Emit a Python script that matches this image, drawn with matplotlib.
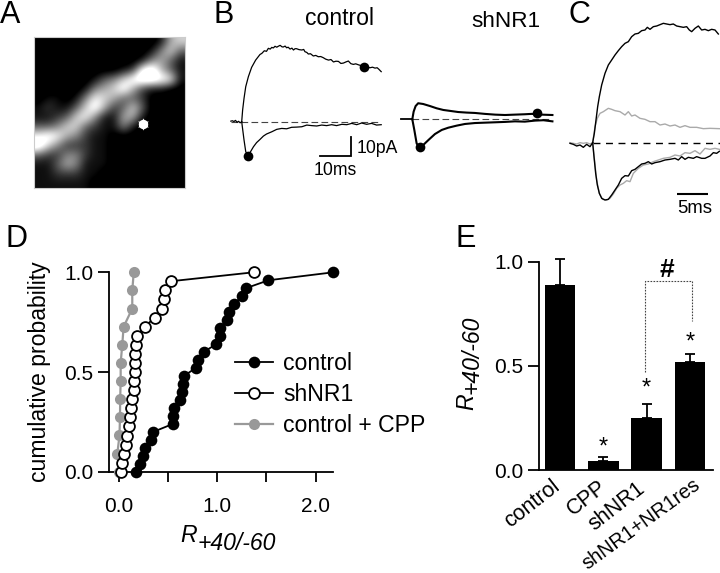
import numpy as np
import matplotlib
matplotlib.use("Agg")
import matplotlib.pyplot as plt

plt.rcParams['font.family'] = ['Liberation Sans', 'DejaVu Sans']
W, H = 720, 573
fig = plt.figure(figsize=(W / 100, H / 100), dpi=100)

# ---------- Panel A micrograph: coarse intensity (0-9)
micro_rows = [
    "0000000000000156",
    "0000000000001463",
    "0000000000014531",
    "0000000001289531",
    "0000001346899871",
    "0000014568521100",
    "0110147653320000",
    "1211368523630000",
    "1123674115510000",
    "3346632114100000",
    "7875421100000000",
    "9642221100000000",
    "3224421100000000",
    "1135411100000000",
    "1122211000000000",
    "1111110000000000",
]
spine_xy = (142.7, 124.3)

# ---------- Panel B, control (ms, pA)
b_ctrl_pre_t = [-3.5, -3.0, -2.5, -2.0, -1.5, -1.0, -0.5, 0.0]
b_ctrl_pre_i = [0.3, 0.5, 0.1, 0.7, -0.3, 0.2, -0.6, 0.0]
b_ctrl_up_t = [0, .3, .75, 1.3, 2.15, 3.2, 4.5, 5.9, 6.5, 7.3, 8.0, 8.6, 9.2, 9.7, 10.2, 10.75, 11.3, 11.8, 12.4, 13.0,
               13.4, 14.0, 14.5, 15.0, 15.6, 16.2, 16.7, 17.2, 17.7, 18.5, 19.4, 20.0, 20.4, 21.0, 21.5, 22.2, 23.1,
               23.9, 24.7, 25.5, 26.3, 27.1, 28, 28.8, 29.6, 30.4, 31.2, 32, 32.8, 33.6, 34.4, 35.2, 36, 36.8, 37.6,
               39.6, 41.4, 42.2, 43, 43.7, 44.3, 45]
b_ctrl_up_i = [0, 6.25, 12.5, 18.75, 24.1, 29.1, 33, 36, 36.6, 38, 37.7, 39.3, 38.9, 39.8, 39.5, 40.4, 39.9, 40.4, 40.9, 40.1,
               40, 40.5, 39.6, 39.9, 38.9, 39.4, 38.4, 39.1, 39.1, 38.6, 38.4, 38.7, 37.5, 37.1, 36.25, 36.4, 35.2,
               35.5, 34.8, 34.9, 34.3, 33.5, 33, 33.3, 32, 32.4, 32.3, 31.2, 31.4, 32, 32.5, 31.1, 30.7, 31, 30.5,
               29.5, 28.9, 29.2, 28.7, 28.9, 28, 26.8]
b_ctrl_lo_t = [0, .75, 1.3, 1.9, 2.7, 3.8, 4.8, 5.9, 7, 8, 9.7, 11.3, 12.9, 14.5, 16.1, 17.7, 19.4, 21, 22.6, 24.2, 25.8,
               27.4, 29, 30.6, 32.3, 33.9, 35.5, 37.1, 38.7, 40.3, 41.9, 43.5, 45]
b_ctrl_lo_i = [0, -9.8, -16, -17.8, -16.5, -13.4, -11.2, -9.5, -7.7, -6.6, -5.4, -4.1, -3.6, -3.8, -3.0, -2.9, -2.7,
               -1.8, -2.1, -2.3, -1.8, -2.1, -1.6, -2.1, -1.4, -1.6, -0.9, -1.6, -0.7, -1.4, -0.9, -1.8, -1.6]
b_ctrl_dots_t = [2.0, 39.4]
b_ctrl_dots_i = [-18.4, 29.5]

# ---------- Panel B, shNR1 (ms, pA)
b_sh_pre_t = [-3.5, -2, -1, 0]
b_sh_pre_i = [0, 0, 0, 0]
b_sh_up_t = [0, .43, 1.07, 1.9, 3.5, 5.7, 7.85, 10, 12.2, 14.8, 17.5, 20.2, 23.4, 26.7, 29.9, 33.1, 36.3, 38.5, 41.7, 45.2]
b_sh_up_i = [0, 4.1, 7.1, 8.6, 8.2, 7.1, 5.9, 5, 4.5, 3.9, 3.6, 3.4, 2.9, 2.5, 2.3, 2.5, 2.7, 2.9, 2.5, 2.3]
b_sh_lo_t = [0, .65, 1.4, 2.15, 3.5, 5.2, 7.3, 9.5, 11.6, 14.3, 17, 20.2, 23.4, 26.7, 29.9, 33.1, 36.3, 39.6, 42.3, 45.2]
b_sh_lo_i = [0, -5.7, -12.9, -15, -13.8, -11.1, -7.9, -5.7, -4.5, -3.4, -2.5, -2, -1.8, -1.6, -1.4, -1.1, -1.25, -.7, -.5, -1.1]
b_sh_dots_t = [2.6, 40.2]
b_sh_dots_i = [-15, 3.6]

# ---------- Panel C (samples at 19 per ms, arbitrary amplitude)
c_blk_pre_s = [-68, -58, -48, -38, -28, -18, -8, 0]
c_blk_pre_a = [-2, -5, -10, -7, -14, -5, -12, 0]
c_gry_pre_s = [-68, -58, -48, -38, -28, -18, -8, 0]
c_gry_pre_a = [0, -2, -4, 0, -2, 0, -4, 0]
c_blk_up_s = [0, 5, 10, 15, 20, 27, 37, 47, 57, 67, 77, 87, 97, 107, 117, 127, 137, 147, 157, 164, 172, 182, 192, 202,
              212, 222, 232, 242, 252, 262, 272, 282, 290, 297, 307, 317, 327, 337, 347, 357, 367, 377]
c_blk_up_a = [0, 28, 68, 108, 138, 173, 208, 233, 248, 263, 276, 288, 298, 303, 318, 326, 328, 336, 338, 346, 340, 348,
              350, 354, 358, 356, 354, 356, 350, 348, 346, 348, 338, 333, 343, 350, 338, 340, 336, 340, 338, 326]
c_gry_up_s = [0, 7, 14, 22, 32, 47, 57, 67, 82, 97, 107, 117, 127, 142, 157, 172, 187, 202, 217, 232, 247, 262, 277, 292,
              312, 332, 352, 380]
c_gry_up_a = [0, 48, 73, 88, 93, 103, 100, 96, 93, 83, 93, 80, 83, 73, 70, 63, 63, 53, 56, 50, 53, 46, 51, 46, 46, 42, 43, 42]
c_blk_lo_s = [0, 4, 9, 14, 20, 27, 37, 47, 57, 67, 77, 87, 97, 107, 117, 127, 137, 147, 157, 167, 177, 187, 202, 217, 232,
              247, 257, 267, 277, 287, 302, 312, 327, 337, 352, 362, 372, 380]
c_blk_lo_a = [0, -42, -92, -127, -152, -167, -172, -170, -157, -142, -127, -107, -99, -100, -84, -80, -72, -64, -62, -57,
              -64, -60, -57, -52, -50, -47, -52, -42, -50, -44, -47, -42, -47, -47, -40, -30, -32, -26]
c_gry_lo_s = [0, 5, 12, 20, 30, 42, 52, 62, 72, 82, 92, 102, 112, 122, 137, 152, 167, 182, 197, 212, 232, 247, 262, 277,
              292, 307, 322, 337, 352, 367, 380]
c_gry_lo_a = [0, -47, -112, -152, -170, -172, -167, -154, -137, -127, -122, -114, -117, -92, -77, -67, -64, -57, -52, -47,
              -44, -37, -40, -30, -32, -24, -34, -17, -20, -17, -20]

# ---------- Panel D
prob_control = [0, .04, .08, .12, .16, .20, .24, .28, .32, .36, .40, .44, .48, .52, .56, .60, .64, .68, .72, .76, .80,
                .84, .88, .92, .96, 1.0]
r_control = [.17, .21, .24, .26, .33, .35, .55, .55, .56, .62, .64, .65, .66, .78, .80, .86, .99, 1.03, 1.03, 1.10, 1.12,
             1.17, 1.25, 1.29, 1.52, 2.18]
prob_shnr1 = [0, .045, .09, .136, .18, .227, .273, .318, .364, .409, .455, .5, .545, .591, .636, .682, .727, .773, .818,
              .864, .909, .955, 1.0]
r_shnr1 = [.02, .03, .05, .07, .08, .10, .115, .12, .13, .15, .155, .16, .165, .165, .17, .185, .26, .365, .435, .455,
           .47, .525, 1.37]
prob_cpp = [0, .091, .182, .273, .364, .455, .545, .636, .727, .818, .909, 1.0]
r_cpp = [.0, -.017, .005, .01, .012, .017, .017, .033, .047, .135, .135, .15]
d_xticks = [0, .5, 1, 1.5, 2]
d_xlabels = ['0.0', '', '1.0', '', '2.0']
d_yticks = [0, .5, 1]
d_ylabels = ['0.0', '0.5', '1.0']

# ---------- Panel E
groups = ['control', 'CPP', 'shNR1', 'shNR1+NR1res']
ratio_mean = [.888, .043, .248, .517]
ratio_err = [.123, .019, .069, .040]
star_groups = [1, 2, 3]
star_heights = [.08, .36, .585]


def px_axes(x0, y0, x1, y1):
    ax = fig.add_axes([x0 / W, 1 - y1 / H, (x1 - x0) / W, (y1 - y0) / H])
    ax.patch.set_alpha(0)
    return ax


def trace_axes(x0, y0, x1, y1, x_zero, y_zero, px_per_x, px_per_y):
    ax = px_axes(x0, y0, x1, y1)
    ax.set_xlim((x0 - x_zero) / px_per_x, (x1 - x_zero) / px_per_x)
    ax.set_ylim((y_zero - y1) / px_per_y, (y_zero - y0) / px_per_y)
    ax.axis('off')
    return ax


# Panel A
ax = px_axes(34, 37, 185, 188)
micro = np.array([[int(c) for c in r] for r in micro_rows], float) / 9
ax.imshow(micro, cmap='gray', vmin=0.07, vmax=0.78, interpolation='bicubic', extent=(34, 185, 188, 37), aspect='auto')
ax.plot(*spine_xy, marker='o', ms=6.8, color='white', mew=0)
ax.plot(*spine_xy, marker=(6, 1, 0), ms=8.8, color='white', mew=0)
ax.set_xticks([]); ax.set_yticks([])
for s in ax.spines.values():
    s.set_color('#cccccc'); s.set_linewidth(0.8)

# Panel B control
PXMS, PXPA = 3.1, 1.867
ax = trace_axes(225, 30, 395, 180, 241.7, 121.7, PXMS, PXPA)
ax.plot([-3.5, 45], [0, 0], color='#444444', lw=0.8, dashes=(6, 3))
ax.plot(b_ctrl_pre_t, b_ctrl_pre_i, 'k', lw=0.9)
ax.plot(b_ctrl_up_t, b_ctrl_up_i, 'k', lw=0.9)
ax.plot(b_ctrl_lo_t, b_ctrl_lo_i, 'k', lw=0.9)
ax.plot(b_ctrl_dots_t, b_ctrl_dots_i, 'o', color='k', ms=7.0, mew=0)
ax.plot([25.3, 35.3, 35.3], [-18.4, -18.4, -8.4], 'k', lw=1.3, solid_joinstyle='miter')

# Panel B shNR1
ax = trace_axes(395, 90, 560, 160, 412.3, 119.3, PXMS, PXPA)
ax.plot([0, 45.2], [0, 0], color='#444444', lw=0.8, dashes=(6, 3))
ax.plot(b_sh_pre_t, b_sh_pre_i, 'k', lw=1.3)
ax.plot(b_sh_up_t, b_sh_up_i, 'k', lw=1.5)
ax.plot(b_sh_lo_t, b_sh_lo_i, 'k', lw=1.5)
ax.plot(b_sh_dots_t, b_sh_dots_i, 'o', color='k', ms=7.0, mew=0)

# Panel C
ax = trace_axes(560, 10, 720, 215, 560 + 98 / 3, 10 + 398 / 3, 1 / 3, 1 / 3)
ax.plot([0, 382], [0, 0], 'k', lw=1.0, dashes=(5, 4))
ax.plot(c_gry_pre_s, c_gry_pre_a, color='#aaaaaa', lw=1.0)
ax.plot(c_gry_up_s, c_gry_up_a, color='#aaaaaa', lw=1.0)
ax.plot(c_gry_lo_s, c_gry_lo_a, color='#aaaaaa', lw=1.0)
ax.plot(c_blk_pre_s, c_blk_pre_a, 'k', lw=1.0)
ax.plot(c_blk_up_s, c_blk_up_a, 'k', lw=1.0)
ax.plot(c_blk_lo_s, c_blk_lo_a, 'k', lw=1.0)
ax.plot([252, 347], [-154, -154], 'k', lw=1.5, solid_capstyle='butt')

# Panel D
ax = px_axes(109, 272.3, 333, 471.7)
ax.set_xlim(-10 / 98.3, 214 / 98.3)
ax.set_ylim(0, 1)
GREY = '#999999'
l3, = ax.plot(r_cpp, prob_cpp, '-o', color=GREY, ms=8, mew=0, lw=1.6, clip_on=False, zorder=3, label='control + CPP')
l1, = ax.plot(r_control, prob_control, '-o', color='k', ms=8.4, mew=0, lw=1.3, clip_on=False, zorder=4, label='control')
l2, = ax.plot(r_shnr1, prob_shnr1, '-o', color='k', mfc='white', mec='k', ms=7.8, mew=1.3, lw=1.3, clip_on=False, zorder=5,
              label='shNR1')
for s in ('top', 'right'):
    ax.spines[s].set_visible(False)
for s in ('left', 'bottom'):
    ax.spines[s].set_linewidth(1.3)
ax.set_xticks(d_xticks, d_xlabels, fontsize=15)
ax.set_yticks(d_yticks, d_ylabels, fontsize=15)
ax.tick_params(axis='x', length=7.2, width=1.3, pad=11)
ax.tick_params(axis='y', length=7.7, width=1.3, pad=3.5)
ax.set_ylabel('cumulative probability', fontsize=16.6)
ax.yaxis.set_label_coords((51 - 109) / 224, 0.5)
ax.legend(handles=[l1, l2, l3], loc='upper left', bbox_to_anchor=(235 / W, 1 - 352 / H), bbox_transform=fig.transFigure,
          frameon=False, fontsize=16.6, handlelength=1.65, handletextpad=0.43, labelspacing=0.34, borderpad=0, borderaxespad=0)

# Panel E
ax = px_axes(539, 261.7, 713, 470)
ax.set_xlim(-21 / 43.3, 153 / 43.3)
ax.set_ylim(0, 1)
x = np.arange(len(groups))
ax.bar(x, ratio_mean, width=30.7 / 43.3, color='k', zorder=3)
ax.errorbar(x, ratio_mean, yerr=[[0] * 4, ratio_err], fmt='none', ecolor='k', elinewidth=1.3, capsize=3.3, capthick=1.3,
            clip_on=False, zorder=3)
for s in ('top', 'right'):
    ax.spines[s].set_visible(False)
for s in ('left', 'bottom'):
    ax.spines[s].set_linewidth(1.3)
ax.set_yticks([0, .5, 1], ['0.0', '0.5', '1.0'], fontsize=15)
ax.tick_params(axis='y', length=7.7, width=1.3, pad=3.5)
ax.set_xticks([])
label_shift = [(-9, -6), (-6, -6), (-10, -8), (3, -5)]
label_size = [15.5, 15.5, 15.5, 14.4]
label_angle = [38, 38, 38, 36]
for g, name, (dx, dy), fs, ang in zip(x, groups, label_shift, label_size, label_angle):
    ax.annotate(name, xy=(g, 0), xytext=(dx, dy), textcoords='offset pixels', fontsize=fs, rotation=ang,
                ha='right', va='top', rotation_mode='anchor', annotation_clip=False)
for g, h in zip(star_groups, star_heights):
    ax.text(g, h, '*', ha='center', va='baseline', fontsize=17)
ax.plot([1.96, 1.96, 3.05, 3.05], [.472, .907, .907, .717], color='#444444', lw=0.8, ls=(0, (1.5, 1.2)), clip_on=False)
ax.text(2.46, .925, '#', ha='center', va='baseline', fontsize=19, fontweight='bold', clip_on=False)


def ftext(xp, yp, s, **kw):
    kw.setdefault('ha', 'left')
    kw.setdefault('va', 'baseline')
    return fig.text(xp / W, 1 - yp / H, s, **kw)


# Panel letters and free labels
for xp, yp, s in [(0, 23, 'A'), (213, 23, 'B'), (568, 23, 'C'), (6, 247, 'D'), (456, 247, 'E')]:
    ftext(xp, yp, s, fontsize=22)
ftext(340, 25, 'control', fontsize=16.6, ha='center')
ftext(471, 27, 'shNR1', fontsize=16.2)
ftext(357, 153, '10pA', fontsize=12.7)
ftext(335, 175, '10ms', fontsize=12.7, ha='center')
ftext(695, 213, '5ms', fontsize=13.3, ha='center')
ftext(180, 542, 'R', fontsize=16.6, style='italic')
ftext(198, 550, '+40/-60', fontsize=16.6, style='italic')
ftext(473, 410, 'R', fontsize=16.6, style='italic', rotation=90, rotation_mode='anchor')
ftext(479, 394, '+40/-60', fontsize=16.6, style='italic', rotation=90, rotation_mode='anchor')

fig.savefig('out.png', dpi=100)
